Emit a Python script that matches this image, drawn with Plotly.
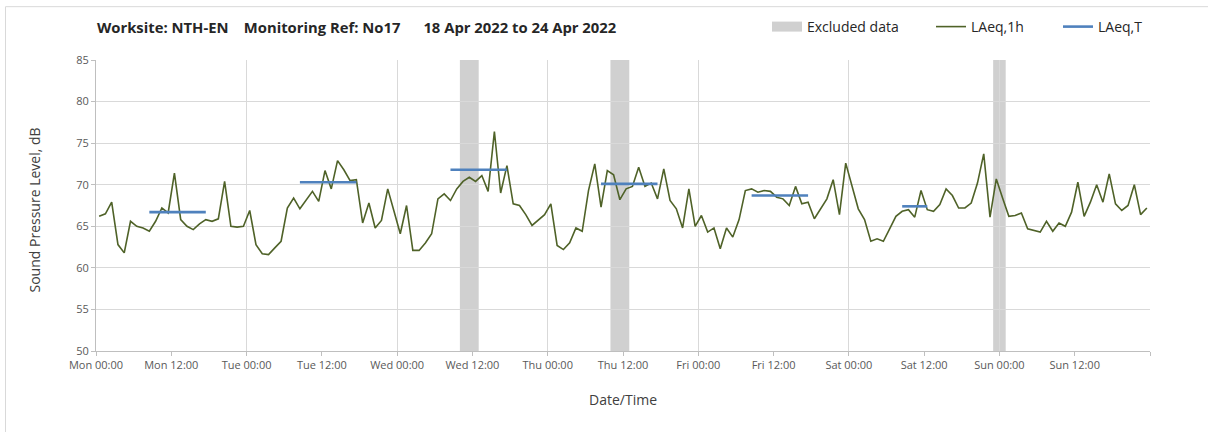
import pandas as pd
import plotly.graph_objects as go

# ---------------- data ----------------
laeq_1h = [
    66.2, 66.5, 67.9, 62.8, 61.8, 65.6, 65.0, 64.8, 64.4, 65.6, 67.2, 66.6,
    71.4, 65.8, 65.0, 64.6, 65.3, 65.8, 65.6, 65.9, 70.4, 65.0, 64.9, 65.0,
    66.9, 62.8, 61.7, 61.6, 62.4, 63.2, 67.2, 68.4, 67.1, 68.1, 69.2, 68.0,
    71.7, 69.5, 72.9, 71.8, 70.5, 70.6, 65.4, 67.8, 64.8, 65.7, 69.5, 66.8,
    64.1, 67.5, 62.1, 62.1, 63.0, 64.1, 68.3, 68.9, 68.1, 69.5, 70.4, 70.9,
    70.4, 71.1, 69.2, 76.4, 69.0, 72.3, 67.7, 67.5, 66.4, 65.1, 65.7, 66.4,
    67.7, 62.7, 62.2, 63.0, 64.8, 64.4, 69.3, 72.5, 67.3, 71.7, 71.2, 68.2,
    69.5, 69.8, 72.1, 69.8, 70.2, 68.3, 71.9, 68.1, 67.1, 64.8, 69.5, 65.0,
    66.3, 64.3, 64.8, 62.3, 64.8, 63.7, 65.8, 69.3, 69.5, 69.1, 69.3, 69.2,
    68.5, 68.3, 67.5, 69.8, 67.7, 67.9, 65.9, 67.1, 68.3, 70.6, 66.4, 72.6,
    69.9, 67.1, 65.8, 63.2, 63.5, 63.2, 64.7, 66.2, 66.8, 67.0, 66.1, 69.3,
    67.0, 66.8, 67.6, 69.5, 68.7, 67.2, 67.2, 67.8, 70.2, 73.7, 66.1, 70.7,
    68.4, 66.2, 66.3, 66.6, 64.7, 64.5, 64.3, 65.6, 64.4, 65.4, 65.0, 66.7,
    70.3, 66.2, 67.9, 70.0, 67.9, 71.3, 67.7, 66.9, 67.5, 70.0, 66.4, 67.2,
]
laeq_1h_times = pd.date_range("2022-04-18 00:30", periods=len(laeq_1h), freq="h")

laeq_t_start = ["2022-04-18 08:30", "2022-04-19 08:30", "2022-04-20 08:30",
                "2022-04-21 08:30", "2022-04-22 08:30", "2022-04-23 08:30"]
laeq_t_end = ["2022-04-18 17:30", "2022-04-19 17:30", "2022-04-20 17:30",
              "2022-04-21 17:30", "2022-04-22 17:30", "2022-04-23 12:30"]
laeq_t_values = [66.7, 70.3, 71.8, 70.1, 68.7, 67.4]

excluded_start = ["2022-04-20 10:00", "2022-04-21 10:00", "2022-04-23 23:00"]
excluded_end = ["2022-04-20 13:00", "2022-04-21 13:00", "2022-04-24 01:00"]

x_tick_labels = ["Mon 00:00", "Mon 12:00", "Tue 00:00", "Tue 12:00", "Wed 00:00",
                 "Wed 12:00", "Thu 00:00", "Thu 12:00", "Fri 00:00", "Fri 12:00",
                 "Sat 00:00", "Sat 12:00", "Sun 00:00", "Sun 12:00", ""]
x_tick_values = pd.date_range("2022-04-18 00:00", periods=len(x_tick_labels), freq="12h")

title_text = ("Worksite: NTH-EN\u00a0\u00a0\u00a0 Monitoring Ref: No17"
              "\u00a0\u00a0\u00a0\u00a0\u00a0 18 Apr 2022 to 24 Apr 2022")

# ---------------- layout constants ----------------
W, H = 1208, 432
L, R, T, B = 96, 58, 59, 81
PW, PH = W - L - R, H - T - B
FONT = "'Open Sans', Lato, sans-serif"
GRID = "#D9D9D9"
AXIS = "#BFBFBF"
TXT = "#404040"

def px_x(px):
    return (px - L) / PW

def px_y(py):
    return (H - B - py) / PH

# ---------------- traces ----------------
lt_x, lt_y = [], []
for s, e, v in zip(laeq_t_start, laeq_t_end, laeq_t_values):
    lt_x += [s, e, None]
    lt_y += [v, v, None]

fig = go.Figure()
fig.add_trace(go.Scatter(x=[None], y=[None], mode="lines", name="Excluded data",
                         line=dict(color="#D0D0D0", width=10), legend="legend"))
fig.add_trace(go.Scatter(x=laeq_1h_times, y=laeq_1h, mode="lines", name="LAeq,1h",
                         line=dict(color="#4F6228", width=1.6), legend="legend2"))
fig.add_trace(go.Scatter(x=lt_x, y=lt_y, mode="lines", name="LAeq,T",
                         line=dict(color="#4F81BD", width=2.6), connectgaps=False,
                         legend="legend3"))

shapes = []
for s, e in zip(excluded_start, excluded_end):
    shapes.append(dict(type="rect", xref="x", yref="paper", x0=s, x1=e, y0=0, y1=1,
                       fillcolor="#D0D0D0", line=dict(width=0), layer="below"))
# outer chart border
shapes.append(dict(type="rect", xref="paper", yref="paper",
                   x0=px_x(5.5), x1=px_x(1214), y0=px_y(440), y1=px_y(5.5),
                   line=dict(color="#D9D9D9", width=1), fillcolor="rgba(0,0,0,0)"))

annotations = [
    dict(text="<b>" + title_text + "</b>", xref="paper", yref="paper",
         x=px_x(95), y=px_y(26), xanchor="left", yanchor="middle", showarrow=False,
         font=dict(family=FONT, size=14.8, color="#262626")),
    dict(text="Sound Pressure Level, dB", xref="paper", yref="paper",
         x=px_x(34), y=px_y(210), xanchor="center", yanchor="middle", textangle=-90,
         showarrow=False, font=dict(family=FONT, size=14, color=TXT)),
    dict(text="Date/Time", xref="paper", yref="paper",
         x=0.5, y=px_y(400), xanchor="center", yanchor="middle",
         showarrow=False, font=dict(family=FONT, size=14, color=TXT)),
]

legend_common = dict(orientation="h", xanchor="left", yanchor="middle",
                     y=px_y(27), bgcolor="rgba(0,0,0,0)", borderwidth=0,
                     font=dict(family=FONT, size=14, color="#262626"),
                     itemwidth=30)

fig.update_layout(
    width=W, height=H,
    margin=dict(l=L, r=R, t=T, b=B),
    paper_bgcolor="white", plot_bgcolor="white",
    font=dict(family=FONT, size=11, color="#595959"),
    shapes=shapes, annotations=annotations,
    showlegend=True,
    legend=dict(legend_common, x=px_x(767)),
    legend2=dict(legend_common, x=px_x(931)),
    legend3=dict(legend_common, x=px_x(1058)),
)

fig.update_xaxes(
    type="date",
    range=["2022-04-18 00:00", "2022-04-25 00:00"],
    tickmode="array", tickvals=x_tick_values, ticktext=x_tick_labels,
    ticks="outside", ticklen=4, tickcolor=AXIS,
    showgrid=False,
    minor=dict(tickmode="linear", tick0="2022-04-18", dtick=86400000,
               showgrid=True, gridcolor=GRID, gridwidth=1, ticks=""),
    showline=True, linecolor=AXIS, linewidth=1,
    tickfont=dict(family=FONT, size=11, color="#595959"),
    zeroline=False,
)
fig.update_yaxes(
    range=[50, 85], dtick=5, tick0=50,
    showgrid=True, gridcolor=GRID, gridwidth=1,
    ticks="outside", ticklen=4, tickcolor=AXIS,
    showline=True, linecolor=AXIS, linewidth=1,
    tickfont=dict(family=FONT, size=11, color="#595959"),
    zeroline=False,
)

fig.write_html("out.html",
               config={"displayModeBar": False},
               post_script="document.body.style.margin='0';document.body.style.overflow='hidden';")
